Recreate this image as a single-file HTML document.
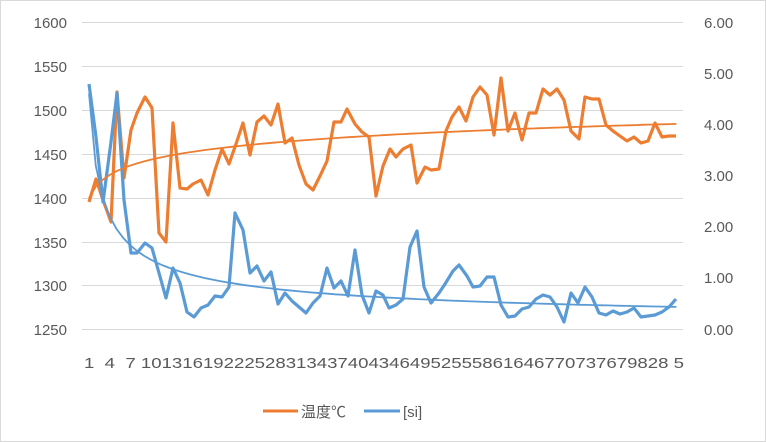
<!DOCTYPE html>
<html><head><meta charset="utf-8"><style>
body{margin:0;background:#fff;}
svg{display:block;font-family:"Liberation Sans","Noto Sans CJK SC",sans-serif;}
</style></head><body>
<svg width="766" height="442" xmlns="http://www.w3.org/2000/svg">
<rect x="0.5" y="0.5" width="765" height="441" fill="#fff" stroke="#d9d9d9"/>
<g stroke="#d9d9d9" stroke-width="1">
<line x1="82" x2="683" y1="22.5" y2="22.5"/><line x1="82" x2="683" y1="66.5" y2="66.5"/>
<line x1="82" x2="683" y1="110.5" y2="110.5"/><line x1="82" x2="683" y1="154.5" y2="154.5"/>
<line x1="82" x2="683" y1="198.5" y2="198.5"/><line x1="82" x2="683" y1="242.5" y2="242.5"/>
<line x1="82" x2="683" y1="285.5" y2="285.5"/><line x1="82" x2="683" y1="329.5" y2="329.5"/>
</g>
<g fill="#595959" font-size="15" text-anchor="end">
<text x="67" y="28">1600</text><text x="67" y="72">1550</text><text x="67" y="116">1500</text>
<text x="67" y="160">1450</text><text x="67" y="204">1400</text><text x="67" y="248">1350</text>
<text x="67" y="291">1300</text><text x="67" y="335">1250</text>
</g>
<g fill="#595959" font-size="15">
<text x="704" y="28">6.00</text><text x="704" y="79">5.00</text><text x="704" y="130">4.00</text>
<text x="704" y="181">3.00</text><text x="704" y="232">2.00</text><text x="704" y="283">1.00</text>
<text x="704" y="335">0.00</text>
</g>
<text x="84" y="368" fill="#595959" font-size="15" textLength="600" lengthAdjust="spacingAndGlyphs" xml:space="preserve">1  4  7 101316192225283134374043464952555861646770737679828 5</text>
<polyline fill="none" stroke="#ed7d31" stroke-width="3.2" stroke-linejoin="round" points="89,202 96,179 103,200 111,222 117,92 124,178 131,130 137,113 145,97 152,108 159,233 166,242 173,123 180,188 187,189 193,184 201,180 208,195 215,170 222,149 229,164 236,144 243,123 250,155 257,122 264,116 271,125 278,104 285,143 292,138 299,165 306,184 313,190 320,176 327,161 334,122 341,122 347,109 355,124 362,132 369,137 376,196 383,166 390,149 396,157 403,149 411,145 417,183 425,167 431,170 439,169 446,131 452,117 459,107 466,121 473,97 480,87 487,95 494,135 501,78 508,131 515,113 522,140 529,113 536,113 543,89 550,95 557,89 564,100 571,131 579,139 585,97 592,99 599,99 606,125 613,131 620,136 627,141 634,137 641,143 648,141 655,123 662,137 669,136 676,136"/>
<polyline fill="none" stroke="#5b9bd5" stroke-width="3.2" stroke-linejoin="round" points="89,84 96,137 103,202 111,142 117,93 124,200 131,253 137,253 145,243 152,248 159,273 166,298 173,268 180,283 187,312 194,317 201,308 208,305 215,296 222,297 229,287 235,213 243,230 250,273 257,266 264,281 271,272 278,304 285,293 292,301 299,307 306,313 313,303 320,296 327,268 334,288 341,281 348,296 355,250 362,295 369,313 376,291 383,295 389,308 396,305 403,299 410,247 417,231 424,287 431,303 439,293 445,284 453,271 459,265 467,276 473,287 480,286 487,277 494,277 501,305 508,317 515,316 522,309 529,307 536,299 543,295 550,297 557,307 564,322 571,293 578,303 585,287 592,297 599,313 606,315 613,311 620,314 627,312 634,308 641,317 648,316 655,315 662,312 669,307 676,299"/>
<polyline id="ot" fill="none" stroke="#ed7d31" stroke-width="1.8"/>
<polyline id="bt" fill="none" stroke="#5b9bd5" stroke-width="1.8"/>
<line x1="263" x2="298" y1="411" y2="411" stroke="#ed7d31" stroke-width="3"/>
<text x="301" y="417" fill="#595959" font-size="15">温度℃</text>
<line x1="364" x2="400" y1="411" y2="411" stroke="#5b9bd5" stroke-width="3"/>
<text x="403" y="417" fill="#595959" font-size="15">[si]</text>
</svg>
<script>
var o=[],b=[];
for(var i=1;i<=87;i++){var x=89+(i-1)*6.83;
o.push(x.toFixed(1)+","+(198-16.6*Math.log(i)).toFixed(1));
var v=4.6*Math.pow(i,-0.53);b.push(x.toFixed(1)+","+(329-v*51.2).toFixed(1));}
document.getElementById("ot").setAttribute("points",o.join(" "));
document.getElementById("bt").setAttribute("points",b.join(" "));
</script>
</body></html>
